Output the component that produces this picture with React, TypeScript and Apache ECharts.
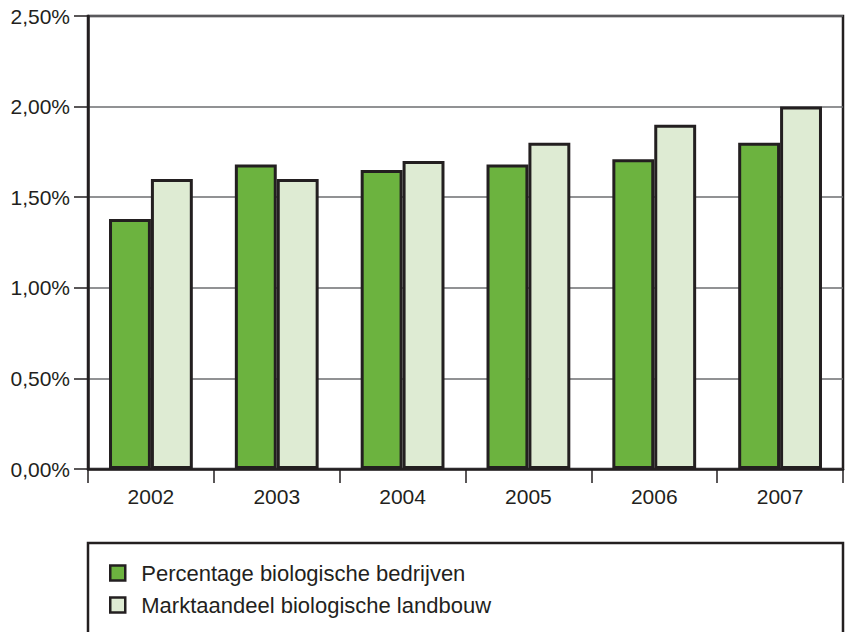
import React, { useEffect, useRef } from "react";
import * as echarts from "echarts";

const categories = ["2002", "2003", "2004", "2005", "2006", "2007"];
const seriesNames = ["Percentage biologische bedrijven", "Marktaandeel biologische landbouw"];
const percentageBedrijven = [1.38, 1.68, 1.65, 1.68, 1.71, 1.8];
const marktaandeel = [1.6, 1.6, 1.7, 1.8, 1.9, 2.0];

const DARK = "#231f20";
const FONT = "'Liberation Sans', Arial, sans-serif";

export default function App() {
  const ref = useRef<HTMLDivElement>(null);
  useEffect(() => {
    if (!ref.current) return;
    const chart = echarts.init(ref.current, undefined, { renderer: "svg" });
    chart.setOption({
      animation: false,
      textStyle: { fontFamily: FONT },
      grid: {
        left: 88,
        right: 2,
        top: 16,
        bottom: 163,
        show: true,
        borderColor: DARK,
        borderWidth: 2.5,
        backgroundColor: "transparent",
      },
      legend: {
        orient: "vertical",
        left: 109,
        top: 562,
        padding: 0,
        itemWidth: 15,
        itemHeight: 15,
        itemGap: 10,
        icon: "rect",
        itemStyle: { borderColor: DARK, borderWidth: 2.5 },
        textStyle: { fontSize: 22, color: DARK, fontFamily: FONT, padding: [0, 0, 0, 11] },
        data: seriesNames,
      },
      graphic: [
        {
          type: "rect",
          shape: { x: 88, y: 543, width: 755, height: 120 },
          style: { fill: "none", stroke: DARK, lineWidth: 2.5 },
          silent: true,
        },
      ],
      xAxis: {
        type: "category",
        data: categories,
        axisLine: { lineStyle: { color: DARK, width: 2.5 } },
        axisTick: { show: true, length: 14, alignWithLabel: false, lineStyle: { color: DARK, width: 1.5 } },
        axisLabel: { fontSize: 21, color: DARK, margin: 17, fontFamily: FONT },
      },
      yAxis: {
        type: "value",
        min: 0,
        max: 2.5,
        interval: 0.5,
        axisLine: { show: true, lineStyle: { color: DARK, width: 2.5 } },
        axisTick: { show: true, length: 14, lineStyle: { color: DARK, width: 1.5 } },
        splitLine: { show: true, lineStyle: { color: "#6d6e70", width: 1.5 } },
        axisLabel: {
          fontSize: 21,
          color: DARK,
          margin: 18,
          fontFamily: FONT,
          formatter: (v: number) => v.toFixed(2).replace(".", ",") + "%",
        },
      },
      series: [
        {
          name: seriesNames[0],
          type: "bar",
          data: percentageBedrijven,
          barWidth: "33.3%",
          barGap: "0%",
          itemStyle: { color: "#6cb33f", borderColor: DARK, borderWidth: 3 },
        },
        {
          name: seriesNames[1],
          type: "bar",
          data: marktaandeel,
          barWidth: "33.3%",
          barGap: "0%",
          itemStyle: { color: "#deebd3", borderColor: DARK, borderWidth: 3 },
        },
      ],
    });
    return () => chart.dispose();
  }, []);
  return <div ref={ref} style={{ width: 845, height: 632, position: "absolute", left: 0, top: 0 }} />;
}
